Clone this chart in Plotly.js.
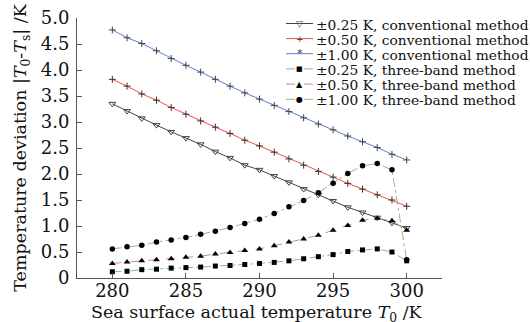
<!DOCTYPE html>
<html><head><meta charset="utf-8">
<script src="https://cdn.plot.ly/plotly-3.0.1.min.js"></script>
<style>html,body{margin:0;padding:0;background:#fff}#chart{width:530px;height:322px}</style>
</head><body><div id="chart"></div>
<script>
const temps = [280,281,282,283,284,285,286,287,288,289,290,291,292,293,294,295,296,297,298,299,300];
const conv025 = [3.35,3.21,3.07,2.94,2.81,2.69,2.57,2.43,2.31,2.17,2.08,1.96,1.84,1.71,1.60,1.48,1.36,1.26,1.16,1.06,0.96];
const conv050 = [3.82,3.69,3.54,3.42,3.28,3.15,3.02,2.90,2.78,2.65,2.54,2.42,2.29,2.17,2.05,1.94,1.82,1.71,1.60,1.50,1.38];
const conv100 = [4.77,4.62,4.51,4.37,4.22,4.09,3.96,3.82,3.69,3.56,3.44,3.32,3.20,3.08,2.96,2.85,2.73,2.62,2.51,2.38,2.27];
const tb025 = [0.12,0.13,0.16,0.17,0.19,0.20,0.21,0.23,0.24,0.26,0.28,0.30,0.33,0.37,0.41,0.45,0.51,0.54,0.56,0.50,0.33];
const tb050 = [0.28,0.31,0.33,0.35,0.37,0.40,0.42,0.46,0.49,0.53,0.56,0.62,0.69,0.75,0.82,0.92,1.01,1.11,1.15,1.10,0.92];
const tb100 = [0.56,0.60,0.63,0.69,0.73,0.78,0.84,0.90,0.97,1.05,1.13,1.24,1.37,1.49,1.64,1.82,2.01,2.16,2.20,2.08,0.35];
const names = ["±0.25 K, conventional method","±0.50 K, conventional method","±1.00 K, conventional method",
               "±0.25 K, three-band method","±0.50 K, three-band method","±1.00 K, three-band method"];
const xTicks = [280,285,290,295,300];
const yTicks = [0,0.5,1,1.5,2,2.5,3,3.5,4,4.5,5];
const yTickText = ["0","0.5","1.0","1.5","2.0","2.5","3.0","3.5","4.0","4.5","5.0"];
const xTitle = "Sea surface actual temperature <i>T</i><sub>0</sub> /K";
const yTitle = "Temperature deviation |<i>T</i><sub>0</sub>-<i>T</i><sub>s</sub>| /K";

const font = "DejaVu Serif, Liberation Serif, serif";
const series = [conv025, conv050, conv100, tb025, tb050, tb100];
const styles = [
  {line:{color:"#444",width:1}, marker:{symbol:"triangle-down-open",size:6,color:"#444",line:{width:1}}, glyph:"▽", gcol:"#444", gsize:9},
  {line:{color:"#f0504a",width:1}, marker:{symbol:"cross-thin-open",size:5,color:"#333",line:{width:1}}, glyph:"+", gcol:"#333", gsize:9},
  {line:{color:"#5b7fd0",width:1}, marker:{symbol:"cross-thin-open",size:5,color:"#444",line:{width:1}}, glyph:"*", gcol:"#333", gsize:11},
  {line:{color:"#7fb9b6",width:1,dash:"dashdot"}, marker:{symbol:"square",size:5,color:"#000"}, glyph:"■", gcol:"#000", gsize:7},
  {line:{color:"#c784c9",width:1,dash:"dash"}, marker:{symbol:"triangle-up",size:6,color:"#000"}, glyph:"▲", gcol:"#000", gsize:8},
  {line:{color:"#b0ac78",width:1,dash:"dashdot"}, marker:{symbol:"circle",size:5.5,color:"#000"}, glyph:"●", gcol:"#000", gsize:8}
];
const traces = series.map((ys,i)=>({x:temps,y:ys,name:names[i],mode:"lines+markers",
  line:styles[i].line, marker:styles[i].marker, showlegend:false}));

// manual compact legend (paper coordinates)
const plotL=77, plotW=365, plotT=18, plotH=260;
const px2x = p => (p-plotL)/plotW;
const py2y = p => (plotT+plotH-p)/plotH;
const rowY = [23.5,38.6,53.7,68.9,84.1,99.3];
const shapes=[], annotations=[];
names.forEach((n,i)=>{
  const y = py2y(rowY[i]);
  shapes.push({type:"line",xref:"paper",yref:"paper",x0:px2x(286),x1:px2x(313),y0:y,y1:y,
    line:{color:styles[i].line.color,width:1,dash:styles[i].line.dash||"solid"}});
  annotations.push({xref:"paper",yref:"paper",x:px2x(299.5),y:y,text:styles[i].glyph,showarrow:false,
    xanchor:"center",yanchor:"middle",font:{family:"DejaVu Sans",size:styles[i].gsize,color:styles[i].gcol},borderpad:0});
  annotations.push({xref:"paper",yref:"paper",x:px2x(315),y:py2y(rowY[i]+1),text:n,showarrow:false,
    xanchor:"left",yanchor:"middle",font:{family:font,size:13.8,color:"#111"},borderpad:0});
});
// x-axis title placed below the tick labels
annotations.push({xref:"paper",yref:"paper",x:px2x(257),y:py2y(301),text:xTitle,showarrow:false,
  xanchor:"center",yanchor:"top",font:{family:font,size:17.5,color:"#111"},borderpad:0});

const layout = {
  width:530,height:322,
  margin:{l:plotL,r:530-plotL-plotW,t:plotT,b:322-plotT-plotH},
  paper_bgcolor:"#fff",plot_bgcolor:"#fff",
  font:{family:font,color:"#111",size:15},
  showlegend:false, shapes:shapes, annotations:annotations,
  xaxis:{range:[277.6,302.4],tickvals:xTicks,ticks:"inside",ticklen:5,tickcolor:"#555",
         showline:true,linecolor:"#555",linewidth:1,showgrid:false,zeroline:false,
         tickfont:{size:18,family:font,color:"#111"},ticklabelstandoff:-4},
  yaxis:{range:[0,5.0],tickvals:yTicks,ticktext:yTickText,ticks:"inside",ticklen:5,tickcolor:"#555",
         showline:true,linecolor:"#555",linewidth:1,showgrid:false,zeroline:false,
         tickfont:{size:18,family:font,color:"#111"},ticklabelstandoff:3,
         title:{text:yTitle,font:{size:17.5,family:font,color:"#111"},standoff:9}}
};
Plotly.newPlot("chart",traces,layout,{displayModeBar:false,staticPlot:true});
</script></body></html>
